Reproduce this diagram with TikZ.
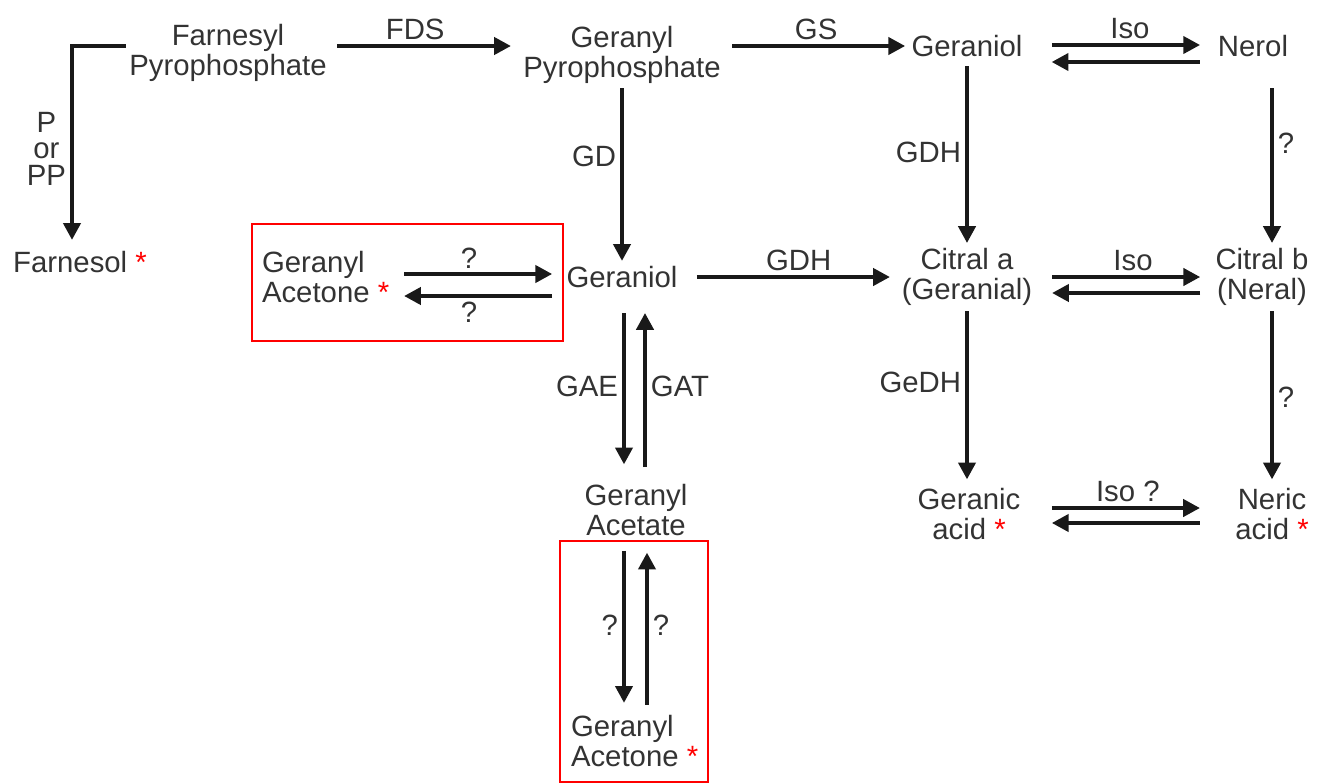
\documentclass[tikz,border=0pt]{standalone}
\usepackage{fontspec}
\setmainfont{Liberation Sans}
\usetikzlibrary{arrows.meta,positioning}
\tikzset{cmpd/.style={inner sep=0pt,outer sep=0pt,align=center,text=black!80,font=\fontsize{22}{22.5}\selectfont},
         enz/.style={text=black!80,font=\fontsize{22}{22.5}\selectfont},
         rxn/.style={->,line width=2.3pt,draw=black!90},
         red box/.style={draw=red,line width=1.6pt},
}
\newcommand{\redstar}{\textcolor{red}{*}}

\begin{document}
\begin{tikzpicture}[>={Triangle[length=12.5pt,width=13pt]},
x=0.75pt, y=-0.75pt]
\useasboundingbox (0,0) rectangle (1324,783);
% compounds
\node[cmpd] (fpp) at (228,53) {Farnesyl\\Pyrophosphate};
\node[cmpd] (gpp) at (622,55) {Geranyl\\Pyrophosphate};
\node[cmpd] (ger1) at (967,46) {Geraniol};
\node[cmpd] (nerol) at (1253,46) {Nerol};
\node[cmpd] (farn) at (80,262) {Farnesol \redstar};
\node[cmpd,anchor=west,align=left] (gac1) at (262,277) {Geranyl\\Acetone \redstar};
\node[cmpd] (ger2) at (622,277) {Geraniol};
\node[cmpd] (cita) at (967,277) {Citral a\\(Geranial)};
\node[cmpd] (citb) at (1262,277) {Citral b\\(Neral)};
\node[cmpd] (gacid) at (969,514) {Geranic\\acid \redstar};
\node[cmpd] (nacid) at (1272,514) {Neric\\acid \redstar};
\node[cmpd] (gaa) at (636,510) {Geranyl\\Acetate};
\node[cmpd,anchor=west,align=left] (gac2) at (571,741) {Geranyl\\Acetone \redstar};

% top row
\draw[rxn,shorten <=7.9pt,shorten >=9.4pt] (fpp.east |- ger1) -- node[enz,above,pos=0.45]{FDS} (gpp.west |- ger1);
\draw[rxn,shorten <=8.6pt,shorten >=4.9pt] (gpp.east |- ger1) -- node[enz,above]{GS} (ger1.west);
\draw[rxn,shorten <=22pt,shorten >=13.5pt] ([yshift=0.75pt]ger1.east) -- node[enz,above,pos=0.55]{Iso} ([yshift=0.75pt]nerol.west);
\draw[rxn,shorten <=13.5pt,shorten >=22pt] ([yshift=-12pt]nerol.west) -- ([yshift=-12pt]ger1.east);

% farnesol branch
\draw[rxn,shorten >=8.6pt] ([xshift=-2.6pt]fpp.west |- ger1) -| node[enz,pos=0.75,left,align=center,font=\fontsize{22}{20}\selectfont]{P\\or\\PP} ([xshift=-6pt]farn.north);

% down from the top row
\draw[rxn,shorten <=3.4pt,shorten >=4.1pt] (gpp.south) -- node[enz,left,pos=0.4]{GD} (ger2.north);
\draw[rxn,shorten <=7.1pt,shorten >=4.1pt] (ger1.south) -- node[enz,left]{GDH} (cita.north);
\draw[rxn,shorten <=23.6pt,shorten >=4.1pt] (nerol.south -| nacid) -- node[enz,right,pos=0.45]{?} (citb.north -| nacid);

% geranyl acetone box
\draw[rxn,shorten <=11.25pt,shorten >=10.9pt] ([yshift=2.25pt]gac1.east) -- node[enz,above,pos=0.45]{?} ([yshift=2.25pt]ger2.west);
\draw[rxn,shorten <=10.9pt,shorten >=11.25pt] ([yshift=-14.25pt]ger2.west) -- node[enz,below,pos=0.55]{?} ([yshift=-14.25pt]gac1.east);
\draw[red box] (252,224) rectangle (563,341);

% middle row
\draw[rxn,shorten <=14.6pt,shorten >=9pt] (ger2.east) -- node[enz,above,pos=0.54]{GDH} (cita.west);
\draw[rxn,shorten <=15pt,shorten >=11.6pt] (cita.east) -- node[enz,above,pos=0.55]{Iso} (citb.west);
\draw[rxn,shorten <=11.6pt,shorten >=15pt] ([yshift=-12pt]citb.west) -- ([yshift=-12pt]cita.east);

% acids
\draw[rxn,shorten <=4.1pt,shorten >=6.75pt] (cita.south) -- node[enz,left,pos=0.42]{GeDH} (cita.south |- gacid.north);
\draw[rxn,shorten <=4.1pt,shorten >=6.75pt] (citb.south -| nacid) -- node[enz,right]{?} (nacid.north);
\draw[rxn,shorten <=23.7pt,shorten >=26.6pt] ([yshift=4.5pt]gacid.east) -- node[enz,above]{Iso ?} ([yshift=4.5pt]nacid.west);
\draw[rxn,shorten <=26.6pt,shorten >=23.7pt] ([yshift=-6.75pt]nacid.west) -- ([yshift=-6.75pt]gacid.east);

% acetate
\draw[rxn,shorten <=19pt,shorten >=15pt] ([xshift=1.5pt]ger2.south) -- node[enz,left]{GAE} ([xshift=1.5pt]ger2.south |- gaa.north);
\draw[rxn,shorten <=12.75pt,shorten >=19pt] ([xshift=17.25pt]ger2.south |- gaa.north) -- node[enz,right]{GAT} ([xshift=17.25pt]ger2.south);
\draw[rxn,shorten <=11.25pt,shorten >=9.4pt] ([xshift=1.5pt]ger2.south |- gaa.south) -- node[enz,left]{?} ([xshift=1.5pt]ger2.south |- gac2.north);
\draw[rxn,shorten <=7.9pt,shorten >=12.75pt] ([xshift=18.75pt]ger2.south |- gac2.north) -- node[enz,right]{?} ([xshift=18.75pt]ger2.south |- gaa.south);
\draw[red box] (560,541) rectangle (708,782);

\end{tikzpicture}
\end{document}
